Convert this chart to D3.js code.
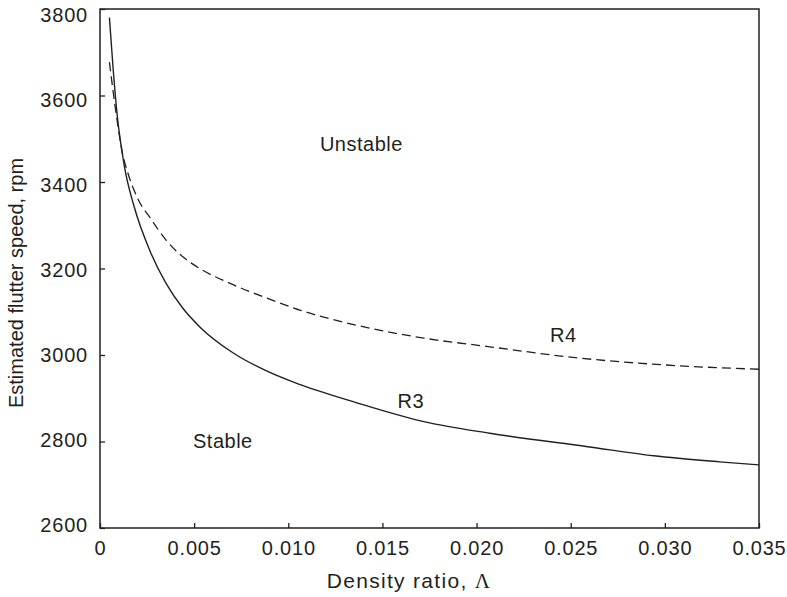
<!DOCTYPE html>
<html>
<head>
<meta charset="utf-8">
<script src="https://cdn.jsdelivr.net/npm/d3@7"></script>
<style>
  body { margin: 0; background: #fff; }
  text { font-family: "Liberation Sans", Arial, sans-serif; fill: #231f20; }
</style>
</head>
<body>
<svg id="chart"></svg>
<script>
// data
const r3X = [0.0005, 0.0007, 0.0009, 0.0013, 0.0018, 0.0027, 0.0035, 0.0044, 0.0053, 0.0071, 0.0089, 0.0106, 0.0136, 0.0172, 0.0207, 0.0259, 0.0294, 0.0329, 0.035];
const r3Y = [3780, 3660, 3560, 3435, 3345, 3236, 3166, 3108, 3065, 3004, 2962, 2932, 2890, 2846, 2819, 2788, 2767, 2753, 2746];
const r4X = [0.0005, 0.0009, 0.0012, 0.0015, 0.0020, 0.0027, 0.0035, 0.0044, 0.0053, 0.0071, 0.0089, 0.0106, 0.0136, 0.0172, 0.0207, 0.025, 0.030, 0.035];
const r4Y = [3677, 3545, 3465, 3418, 3362, 3315, 3266, 3227, 3200, 3162, 3131, 3104, 3069, 3039, 3019, 2995, 2977, 2967];
const xTicks = [0, 0.005, 0.010, 0.015, 0.020, 0.025, 0.030, 0.035];
const xTickLabels = ["0", "0.005", "0.010", "0.015", "0.020", "0.025", "0.030", "0.035"];
const yTicks = [2600, 2800, 3000, 3200, 3400, 3600, 3800];

const width = 787, height = 597;
const margin = { top: 9, right: 28, bottom: 69, left: 100 };
const innerW = width - margin.left - margin.right;
const innerH = height - margin.top - margin.bottom;
const ink = "#231f20";

const svg = d3.select("#chart").attr("width", width).attr("height", height);
const g = svg.append("g").attr("transform", `translate(${margin.left},${margin.top})`);

const x = d3.scaleLinear().domain([0, 0.035]).range([0, innerW]);
const y = d3.scaleLinear().domain([2600, 3800]).range([innerH, 0]);

// frame
g.append("rect")
  .attr("width", innerW).attr("height", innerH)
  .attr("fill", "none").attr("stroke", ink).attr("stroke-width", 1.5);

// x axis, ticks pointing inward
const xAxis = g.append("g")
  .attr("transform", `translate(0,${innerH})`)
  .call(d3.axisBottom(x).tickValues(xTicks).tickSizeInner(-5).tickSizeOuter(0)
    .tickPadding(13).tickFormat((d, i) => xTickLabels[i]));
xAxis.select(".domain").remove();
xAxis.selectAll(".tick line").attr("stroke", ink).attr("stroke-width", 1.3);
xAxis.selectAll(".tick text").style("font-size", "20px").style("letter-spacing", "0.8px")
  .attr("fill", ink).attr("font-family", "Liberation Sans, Arial, sans-serif");

// y axis; labels drift from a little below the tick at the top to a little above at the bottom
const yAxis = g.append("g")
  .call(d3.axisLeft(y).tickValues(yTicks).tickSizeInner(-5).tickSizeOuter(0)
    .tickPadding(12).tickFormat(d3.format("d")));
yAxis.select(".domain").remove();
yAxis.selectAll(".tick line").attr("stroke", ink).attr("stroke-width", 1.3);
const labelShift = d3.scaleLinear().domain([2600, 3800]).range([-4, 5]);
yAxis.selectAll(".tick text").style("font-size", "20px").style("letter-spacing", "0.8px")
  .attr("fill", ink).attr("font-family", "Liberation Sans, Arial, sans-serif")
  .attr("dy", null)
  .attr("y", d => labelShift(d))
  .attr("dominant-baseline", "central");

// curves
const line = d3.line().x(d => x(d[0])).y(d => y(d[1])).curve(d3.curveMonotoneX);

g.append("path")
  .datum(d3.zip(r3X, r3Y))
  .attr("d", line)
  .attr("fill", "none").attr("stroke", ink).attr("stroke-width", 1.4);

g.append("path")
  .datum(d3.zip(r4X, r4Y))
  .attr("d", line)
  .attr("fill", "none").attr("stroke", ink).attr("stroke-width", 1.3)
  .attr("stroke-dasharray", "9,5");

// annotations
const notes = [
  { t: "Unstable", x: 0.01168, y: 3472 },
  { t: "Stable", x: 0.00494, y: 2785 },
  { t: "R4", x: 0.0239, y: 3030 },
  { t: "R3", x: 0.0158, y: 2877 }
];
g.selectAll(".note").data(notes).join("text")
  .attr("class", "note")
  .attr("x", d => x(d.x)).attr("y", d => y(d.y))
  .style("font-size", "20px").style("letter-spacing", "0.5px")
  .text(d => d.t);

// axis titles
const xt = svg.append("text")
  .attr("x", 409).attr("y", 588)
  .attr("text-anchor", "middle")
  .style("font-size", "21px").style("letter-spacing", "1.3px")
  .text("Density ratio, ");
xt.append("tspan").style("font-family", "Liberation Serif, serif").text("Λ");

svg.append("text")
  .attr("transform", "translate(23,283) rotate(-90)")
  .attr("text-anchor", "middle")
  .style("font-size", "20px")
  .text("Estimated flutter speed, rpm");
</script>
</body>
</html>
